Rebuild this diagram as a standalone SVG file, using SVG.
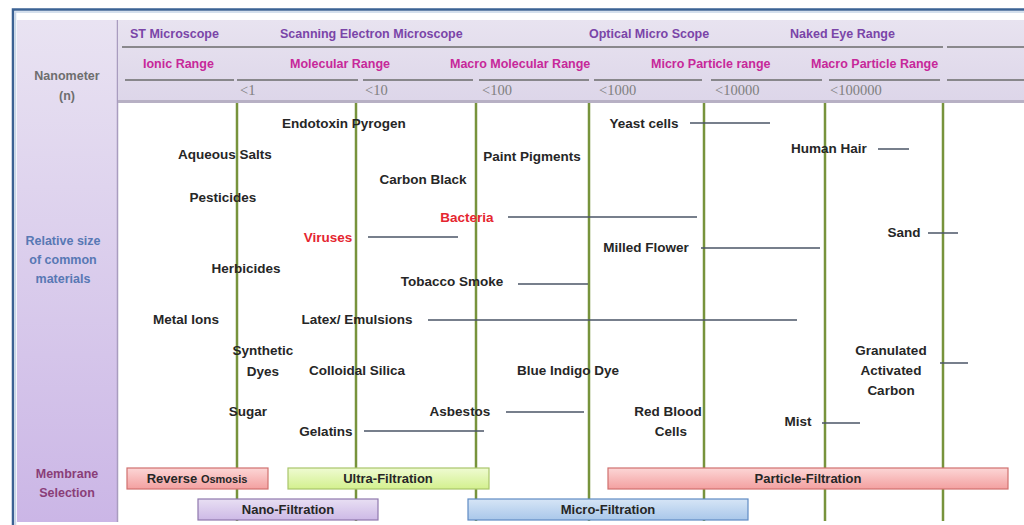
<svg xmlns="http://www.w3.org/2000/svg" width="1024" height="525" viewBox="0 0 1024 525">
<defs>
<linearGradient id="gLeft" x1="0" y1="0" x2="0" y2="1"><stop offset="0" stop-color="#e9e3f2"/><stop offset="1" stop-color="#cbb6e6"/></linearGradient>
<linearGradient id="gHead" x1="0" y1="0" x2="0" y2="1"><stop offset="0" stop-color="#e8e3f0"/><stop offset="1" stop-color="#ddd6e9"/></linearGradient>
<linearGradient id="gRed" x1="0" y1="0" x2="0" y2="1"><stop offset="0" stop-color="#fcd6d6"/><stop offset="1" stop-color="#f3a0a0"/></linearGradient>
<linearGradient id="gGreen" x1="0" y1="0" x2="0" y2="1"><stop offset="0" stop-color="#effbd2"/><stop offset="1" stop-color="#d3f08e"/></linearGradient>
<linearGradient id="gPurple" x1="0" y1="0" x2="0" y2="1"><stop offset="0" stop-color="#e8dff3"/><stop offset="1" stop-color="#cdb9e6"/></linearGradient>
<linearGradient id="gBlue" x1="0" y1="0" x2="0" y2="1"><stop offset="0" stop-color="#d6e5f6"/><stop offset="1" stop-color="#a9c7ea"/></linearGradient>
</defs>
<style>
text{font-family:"Liberation Sans",Arial,sans-serif;}
.t{font-size:13.5px;font-weight:bold;fill:#262626;text-anchor:middle;}
.red{fill:#e52530;}
.h1{font-size:12.5px;font-weight:bold;fill:#7a45a8;}
.h2{font-size:12.5px;font-weight:bold;fill:#c7289a;}
.h3{font-family:"Liberation Serif",serif;font-size:14.5px;fill:#808080;}
.side{font-size:12.5px;font-weight:bold;text-anchor:middle;}
.hl{stroke:#6b6b6b;stroke-width:1.6;}
.v{stroke:#77933c;stroke-width:2.5;}
.c{stroke:#4a5566;stroke-width:1.5;}
.bar{stroke-width:1.2;}
.bt{font-size:13px;font-weight:bold;fill:#262626;text-anchor:middle;}
</style>
<rect width="1024" height="525" fill="#ffffff"/>
<!-- frame -->
<path d="M13 530 V9.5 H1030" fill="none" stroke="#3b6294" stroke-width="2.5"/>
<path d="M15.5 530 V12 H1030" fill="none" stroke="#c8d6e8" stroke-width="1.5"/>
<!-- left column -->
<g id="left-panel">
<rect x="17" y="20" width="100" height="502" fill="url(#gLeft)"/>
<line x1="117.5" y1="20" x2="117.5" y2="522" stroke="#a99cbf" stroke-width="1.5"/>
<text class="side" x="67" y="80" fill="#6e6e6e">Nanometer</text>
<text class="side" x="67" y="100" fill="#6e6e6e">(n)</text>
<text class="side" x="63" y="245" fill="#5878b4">Relative size</text>
<text class="side" x="63" y="264" fill="#5878b4">of common</text>
<text class="side" x="63" y="283" fill="#5878b4">materials</text>
<text class="side" x="67" y="478" fill="#8a3e78">Membrane</text>
<text class="side" x="67" y="497" fill="#8a3e78">Selection</text>
</g>
<!-- header -->
<g id="header">
<rect x="118" y="20" width="906" height="80" fill="url(#gHead)"/>
<rect x="118" y="100" width="906" height="3" fill="#b7b0c4"/>
<text class="h1" x="130" y="38">ST Microscope</text>
<text class="h1" x="280" y="38">Scanning Electron Microscope</text>
<text class="h1" x="589" y="38">Optical Micro Scope</text>
<text class="h1" x="790" y="38">Naked Eye Range</text>
<line class="hl" x1="122" y1="47" x2="943" y2="47"/>
<line class="hl" x1="947" y1="47" x2="1024" y2="47"/>
<text class="h2" x="143" y="68">Ionic Range</text>
<text class="h2" x="290" y="68">Molecular Range</text>
<text class="h2" x="450" y="68">Macro Molecular Range</text>
<text class="h2" x="651" y="68">Micro Particle range</text>
<text class="h2" x="811" y="68">Macro Particle Range</text>
<line class="hl" x1="125" y1="80" x2="234" y2="80"/>
<line class="hl" x1="237" y1="80" x2="358" y2="80"/>
<line class="hl" x1="363" y1="80" x2="473" y2="80"/>
<line class="hl" x1="479" y1="80" x2="589" y2="80"/>
<line class="hl" x1="594" y1="80" x2="702" y2="80"/>
<line class="hl" x1="711" y1="80" x2="822" y2="80"/>
<line class="hl" x1="829" y1="80" x2="940" y2="80"/>
<line class="hl" x1="947" y1="80" x2="1024" y2="80"/>
<text class="h3" x="240" y="95">&lt;1</text>
<text class="h3" x="365" y="95">&lt;10</text>
<text class="h3" x="482" y="95">&lt;100</text>
<text class="h3" x="599" y="95">&lt;1000</text>
<text class="h3" x="715" y="95">&lt;10000</text>
<text class="h3" x="830" y="95">&lt;100000</text>
</g>
<!-- scale lines -->
<g id="scale-lines">
<line class="v" x1="237" y1="103" x2="237" y2="521"/>
<line class="v" x1="356" y1="103" x2="356" y2="521"/>
<line class="v" x1="476" y1="103" x2="476" y2="521"/>
<line class="v" x1="589" y1="103" x2="589" y2="521"/>
<line class="v" x1="704" y1="103" x2="704" y2="521"/>
<line class="v" x1="825" y1="103" x2="825" y2="521"/>
<line class="v" x1="943" y1="103" x2="943" y2="521"/>
</g>
<!-- connectors -->
<g id="connectors">
<line class="c" x1="690" y1="123" x2="770" y2="123"/>
<line class="c" x1="878" y1="149" x2="909" y2="149"/>
<line class="c" x1="508" y1="217" x2="697" y2="217"/>
<line class="c" x1="368" y1="237" x2="458" y2="237"/>
<line class="c" x1="928" y1="233" x2="958" y2="233"/>
<line class="c" x1="701" y1="248" x2="820" y2="248"/>
<line class="c" x1="518" y1="284" x2="588" y2="284"/>
<line class="c" x1="428" y1="320" x2="797" y2="320"/>
<line class="c" x1="940" y1="363" x2="968" y2="363"/>
<line class="c" x1="506" y1="412" x2="584" y2="412"/>
<line class="c" x1="364" y1="431" x2="484" y2="431"/>
<line class="c" x1="822" y1="423" x2="860" y2="423"/>
</g>
<!-- materials -->
<g id="endotoxin"><text class="t" x="344" y="128">Endotoxin Pyrogen</text></g>
<g id="aqueous-salts"><text class="t" x="225" y="159">Aqueous Salts</text></g>
<g id="paint-pigments"><text class="t" x="532" y="161">Paint Pigments</text></g>
<g id="carbon-black"><text class="t" x="423" y="184">Carbon Black</text></g>
<g id="pesticides"><text class="t" x="223" y="202">Pesticides</text></g>
<g id="bacteria"><text class="t red" x="467" y="222">Bacteria</text></g>
<g id="viruses"><text class="t red" x="328" y="242">Viruses</text></g>
<g id="yeast-cells"><text class="t" x="644" y="128">Yeast cells</text></g>
<g id="human-hair"><text class="t" x="829" y="153">Human Hair</text></g>
<g id="sand"><text class="t" x="904" y="237">Sand</text></g>
<g id="milled-flower"><text class="t" x="646" y="252">Milled Flower</text></g>
<g id="herbicides"><text class="t" x="246" y="273">Herbicides</text></g>
<g id="tobacco-smoke"><text class="t" x="452" y="286">Tobacco Smoke</text></g>
<g id="metal-ions"><text class="t" x="186" y="324">Metal Ions</text></g>
<g id="latex"><text class="t" x="357" y="324">Latex/ Emulsions</text></g>
<g id="synthetic-dyes"><text class="t" x="263" y="355">Synthetic</text><text class="t" x="263" y="376">Dyes</text></g>
<g id="colloidal-silica"><text class="t" x="357" y="375">Colloidal Silica</text></g>
<g id="blue-indigo"><text class="t" x="568" y="375">Blue Indigo Dye</text></g>
<g id="gac"><text class="t" x="891" y="355">Granulated</text><text class="t" x="891" y="375">Activated</text><text class="t" x="891" y="395">Carbon</text></g>
<g id="sugar"><text class="t" x="248" y="416">Sugar</text></g>
<g id="asbestos"><text class="t" x="460" y="416">Asbestos</text></g>
<g id="gelatins"><text class="t" x="326" y="436">Gelatins</text></g>
<g id="red-blood-cells"><text class="t" x="668" y="416">Red Blood</text><text class="t" x="671" y="436">Cells</text></g>
<g id="mist"><text class="t" x="798" y="426">Mist</text></g>
<!-- membrane bars -->
<g id="reverse-osmosis"><rect class="bar" x="127" y="468" width="141" height="21" fill="url(#gRed)" stroke="#d0706e"/><text class="bt" x="197" y="483">Reverse <tspan font-size="11px">Osmosis</tspan></text></g>
<g id="ultra-filtration"><rect class="bar" x="288" y="468" width="201" height="21" fill="url(#gGreen)" stroke="#a9c56a"/><text class="bt" x="388" y="483">Ultra-Filtration</text></g>
<g id="particle-filtration"><rect class="bar" x="608" y="468" width="400" height="21" fill="url(#gRed)" stroke="#d0706e"/><text class="bt" x="808" y="483">Particle-Filtration</text></g>
<g id="nano-filtration"><rect class="bar" x="198" y="499" width="180" height="21" fill="url(#gPurple)" stroke="#8f78ad"/><text class="bt" x="288" y="514">Nano-Filtration</text></g>
<g id="micro-filtration"><rect class="bar" x="468" y="499" width="280" height="21" fill="url(#gBlue)" stroke="#5f8bc4"/><text class="bt" x="608" y="514">Micro-Filtration</text></g>
</svg>
